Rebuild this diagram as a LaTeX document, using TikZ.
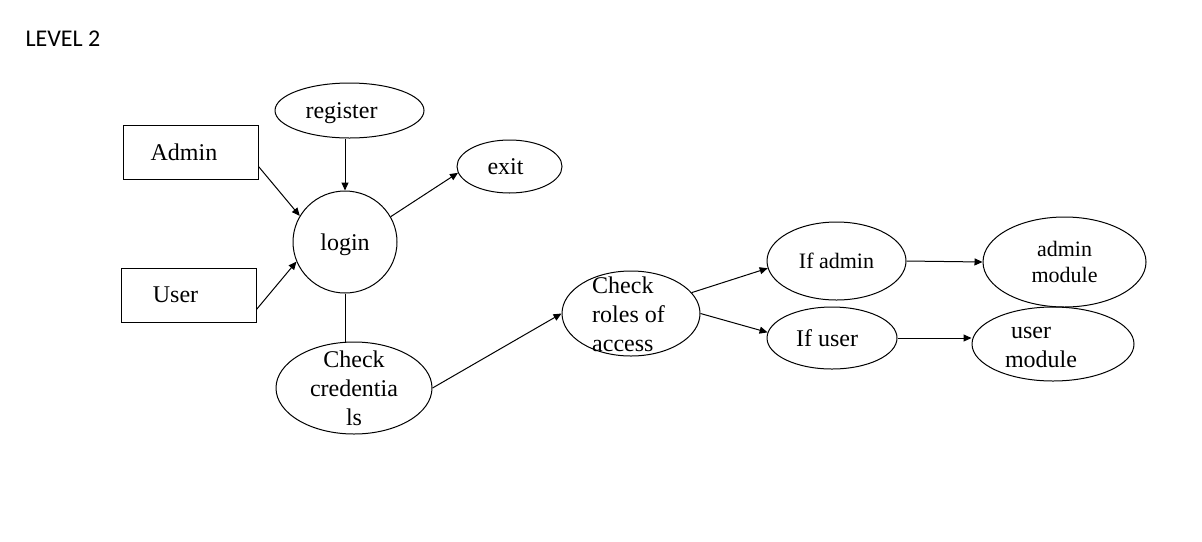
\documentclass[tikz,border=0pt]{standalone}
\usepackage{fontspec}
\setmainfont{Liberation Serif}
\newfontfamily\headfont{Carlito}
\usetikzlibrary{shapes.geometric,arrows.meta}
\newcommand{\ovtext}[2][c]{\smash{\raisebox{-0.375em}{\begin{tabular}{@{}#1@{}}#2\end{tabular}}}}

\tikzset{oval/.style={ellipse, draw, inner sep=0pt, text depth=0pt},
 entity/.style={rectangle, draw, minimum width=67.5pt, minimum height=27pt, inner sep=0pt},
 small/.style={font=\fontsize{11}{13}\selectfont},
 flow/.style={-{Triangle[length=4pt,width=3.5pt]}}}

\begin{document}
\begin{tikzpicture}[x=0.5pt, y=-0.5pt, line width=0.5pt]
\tikzstyle{every node}=[font=\fontsize{12}{14.5}\selectfont]
\useasboundingbox (0,0) rectangle (1202,541);
\node[anchor=base west, inner sep=0pt, font={\headfont\fontsize{12}{14.5}\selectfont}] (title) at (25,46) {LEVEL 2};
\node[entity] (admin) at (190.5,152) {Admin\hspace*{6.5pt}};
\node[entity] (user) at (188.5,295) {User\hspace*{13pt}};
\node[oval, minimum width=74.5pt, minimum height=27.5pt] (register) at (349.5,110.5) {register\hspace*{8pt}};
\node[oval, minimum width=52pt, minimum height=51pt] (login) at (345,242) {login};
\node[oval, minimum width=52.5pt, minimum height=26.5pt] (exit) at (509.5,166.5) {exit\hspace*{4pt}};
\node[oval, minimum width=78pt, minimum height=46pt] (cred) at (354,388) {\ovtext{Check\\credentia\\ls}};
\node[oval, minimum width=69pt, minimum height=42.5pt] (roles) at (631,313.5) {\ovtext[l]{Check\\roles of\hspace*{2.5pt}\\access}};
\node[oval, small, minimum width=69.5pt, minimum height=39pt] (ifadmin) at (836.5,261) {If admin};
\node[oval, minimum width=65pt, minimum height=31pt] (ifuser) at (832,338) {If user\hspace*{5pt}};
\node[oval, small, minimum width=81.5pt, minimum height=45pt] (adminmod) at (1064.5,262) {\ovtext{admin\\module}};
\node[oval, minimum width=81pt, minimum height=37pt] (usermod) at (1053,344) {\ovtext{user\hspace*{22pt}\\module\hspace*{12pt}}};

\draw[flow] (admin.-12.5) -- (login.150);
\draw[flow] (user.-12.5) -- (login.202);
\draw[flow] (register.south -| login.north) -- (login.north);
\draw[flow] (login.29) -- (exit.187);
\draw (login.south) -- (login.south |- cred.north);
\draw[flow] (cred.east) -- (roles.west);
\draw[flow] (roles.19) -- (ifadmin.186);
\draw[flow] (roles.east) -- (ifuser.175);
\draw[flow] (ifadmin.east) -- (adminmod.west);
\draw[flow] (ifuser.east) -- (ifuser.east -| usermod.west);
\end{tikzpicture}
\end{document}
